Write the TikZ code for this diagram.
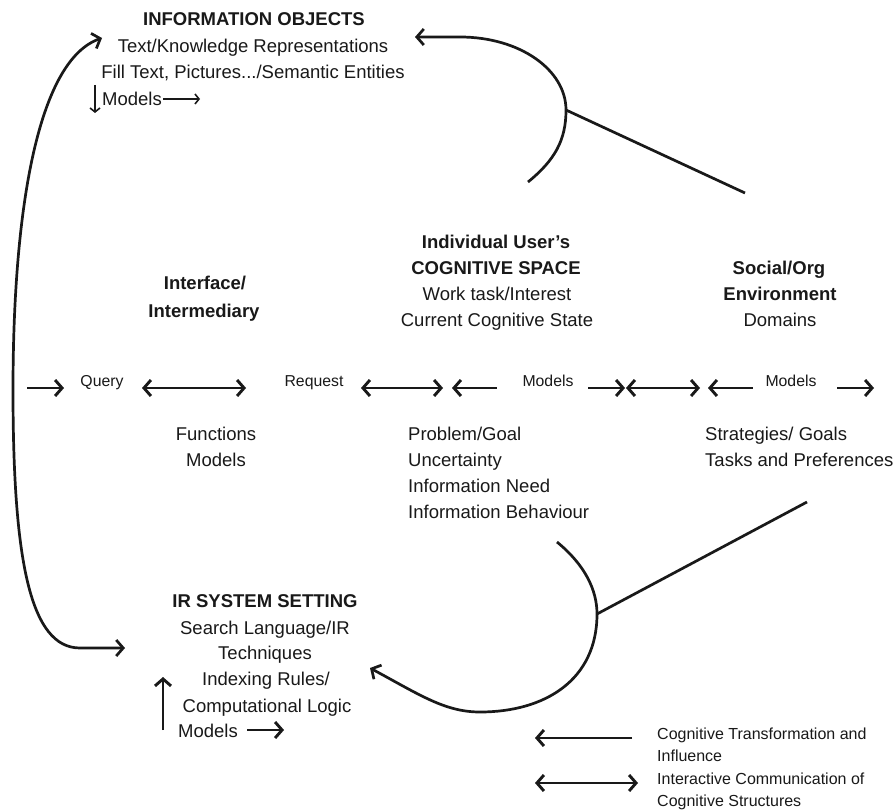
\documentclass[tikz,border=0pt]{standalone}
\usepackage{fontspec}
\setmainfont{Liberation Sans}
\usetikzlibrary{arrows.meta}
\definecolor{ink}{RGB}{25,25,25}
\begin{document}
\begin{tikzpicture}[x=1pt,y=-1pt,
  txt/.style={inner sep=0pt, text=ink, font=\fontsize{18.5}{26}\selectfont, anchor=base},
  hd/.style={txt, font=\fontsize{18.5}{26}\selectfont\bfseries},
  sm/.style={inner sep=0pt, text=ink, font=\fontsize{15.8}{20}\selectfont, anchor=base},
  lg/.style={inner sep=0pt, text=ink, font=\fontsize{16}{22}\selectfont, anchor=base west},
  tipb/.tip={Straight Barb[length=7pt,width=16pt]},
  tips/.tip={Straight Barb[length=4pt,width=10pt]},
  flow/.style={draw=ink, line width=2.9pt, -tipb},
  flowback/.style={draw=ink, line width=2.9pt, tipb-},
  both/.style={draw=ink, line width=2.9pt, tipb-tipb},
  slim/.style={draw=ink, line width=1.6pt, -tips},
  curve/.style={draw=ink, line width=2.7pt}
]
\fill[white] (0,0) rectangle (896,810);
\useasboundingbox (0,0) rectangle (896,810);

% ---- information objects
\node[hd] (ioT) at (254,26) {INFORMATION OBJECTS};
\node[txt] (io1) at (253,53) {Text/Knowledge Representations};
\node[txt] (io2) at (253,79) {Fill Text, Pictures.../Semantic Entities};
\node[txt, anchor=base west] (ioM) at (102,106) {Models};
\coordinate (ioMa) at (163,99);
\coordinate (ioMb) at (200,99);
\coordinate (ioDa) at (95,85);
\coordinate (ioDb) at (95,113);
\draw[slim] (ioMa) -- (ioMb);
\draw[slim] (ioDa) -- (ioDb);

% ---- interface / intermediary
\node[hd] (ifA) at (205,289) {Interface/};
\node[hd] (ifB) at (204,317) {Intermediary};
\node[txt] (ifF) at (216,440) {Functions};
\node[txt] (ifM) at (216,466) {Models};

% ---- cognitive space
\node[hd] (csA) at (496,248) {Individual User's};
\node[hd] (csB) at (496,274) {COGNITIVE SPACE};
\node[txt] (csC) at (497,300) {Work task/Interest};
\node[txt] (csD) at (497,326) {Current Cognitive State};
\node[txt, anchor=base west] (cs1) at (408,440) {Problem/Goal};
\node[txt, anchor=base west] (cs2) at (408,466) {Uncertainty};
\node[txt, anchor=base west] (cs3) at (408,492) {Information Need};
\node[txt, anchor=base west] (cs4) at (408,518) {Information Behaviour};

% ---- social / organisational environment
\node[hd] (soA) at (779,274) {Social/Org};
\node[hd] (soB) at (780,300) {Environment};
\node[txt] (soC) at (780,326) {Domains};
\node[txt, anchor=base west] (so1) at (705,440) {Strategies/ Goals};
\node[txt, anchor=base west] (so2) at (705,466) {Tasks and Preferences};

% ---- IR system setting
\node[hd] (irT) at (265,607) {IR SYSTEM SETTING};
\node[txt] (ir1) at (265,634) {Search Language/IR};
\node[txt] (ir2) at (265,659) {Techniques};
\node[txt] (ir3) at (266,685) {Indexing Rules/};
\node[txt] (ir4) at (267,712) {Computational Logic};
\node[txt, anchor=base west] (irM) at (178,737) {Models};
\coordinate (irUa) at (163,730);
\coordinate (irUb) at (163,677);
\coordinate (irMa) at (247,730);
\coordinate (irMb) at (284,730);
\draw[flow] (irUa) -- (irUb);
\draw[flow] (irMa) -- (irMb);

% ---- interaction row
\node[sm] (qry) at (102,386) {Query};
\node[sm] (req) at (314,386) {Request};
\node[sm] (mdA) at (548,386) {Models};
\node[sm] (mdB) at (791,386) {Models};
\foreach \n/\x in {r1/27,r2/64,r3/142,r4/246,r5/361,r6/443,r7/452,r8/497,
                   r9/588,r10/625,r11/626,r12/700,r13/708,r14/753,r15/837,r16/874}
  \coordinate (\n) at (\x,388);
\draw[flow] (r1) -- (r2);
\draw[both] (r3) -- (r4);
\draw[both] (r5) -- (r6);
\draw[flowback] (r7) -- (r8);
\draw[flow] (r9) -- (r10);
\draw[both] (r11) -- (r12);
\draw[flowback] (r13) -- (r14);
\draw[flow] (r15) -- (r16);

% ---- long arc between information objects and IR system
\coordinate (lTop) at (102,38);
\coordinate (lBot) at (125,648);
\draw[curve, tipb-tipb] (lTop) .. controls (40,60) and (13,200) .. (13,390)
  .. controls (13,560) and (30,648) .. (80,648) -- (lBot);

% ---- influence on information objects
\coordinate (uTip) at (415,37);
\coordinate (uJoin) at (566,110);
\coordinate (uEnd) at (745,193);
\draw[curve, -tipb] (528,182) .. controls (555,160) and (566,140) .. (uJoin)
  .. controls (566,70) and (520,37) .. (460,37) -- (uTip);
\draw[curve] (uJoin) -- (uEnd);

% ---- influence on IR system setting
\coordinate (dTip) at (370,668);
\coordinate (dJoin) at (597,614);
\coordinate (dEnd) at (807,502);
\draw[curve, -tipb] (557,542) .. controls (585,565) and (597,590) .. (dJoin)
  .. controls (597,680) and (545,712) .. (480,712)
  .. controls (445,712) and (420,695) .. (dTip);
\draw[curve] (dJoin) -- (dEnd);

% ---- legend
\coordinate (lgA) at (632,738);
\coordinate (lgB) at (535,738);
\coordinate (lgC) at (535,783);
\coordinate (lgD) at (638,783);
\draw[flow] (lgA) -- (lgB);
\draw[both] (lgC) -- (lgD);
\node[lg] (lg1) at (657,739) {Cognitive Transformation and};
\node[lg] (lg2) at (657,761) {Influence};
\node[lg] (lg3) at (657,784) {Interactive Communication of};
\node[lg] (lg4) at (657,806) {Cognitive Structures};
\end{tikzpicture}
\end{document}
